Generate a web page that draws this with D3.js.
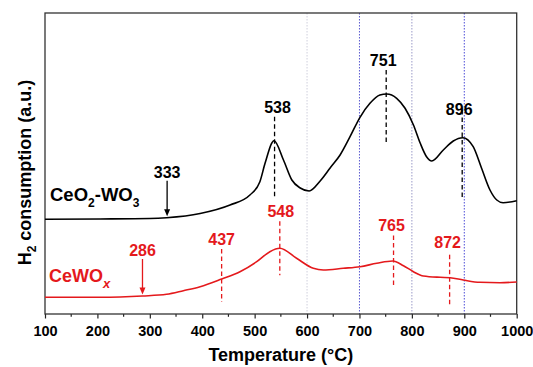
<!DOCTYPE html>
<html>
<head>
<meta charset="utf-8">
<script src="https://cdn.jsdelivr.net/npm/d3@7"></script>
<style>
  html, body { margin: 0; padding: 0; background: #fff; }
  svg { display: block; font-family: "Liberation Sans", Arial, sans-serif; }
</style>
</head>
<body>
<svg id="chart" width="533" height="367"></svg>
<script>
// H2-TPR profiles (temperature in °C, signal in arbitrary units)
const ceo2wo3Temp = [100, 205, 300, 332, 396, 453, 491, 510, 520, 537, 555, 571, 587, 604, 625, 644, 663, 682, 701, 720, 739, 752, 771, 787, 803, 816, 828, 838, 860, 879, 897, 917, 933, 949, 962, 974, 1000];
const ceo2wo3Signal = [94.7, 95, 95.5, 96.3, 100.5, 109, 119, 132.3, 151, 173.3, 154, 134, 126, 123, 133, 146, 159, 177.3, 196.7, 210.7, 219, 220, 215.7, 205.7, 189, 170.7, 157.3, 153, 164, 173, 176.3, 167.3, 145.7, 124, 114, 111.3, 113.3];

const cewoxTemp = [100, 205, 286, 332, 364, 396, 437, 472, 504, 529, 548, 580, 612, 631, 669, 701, 733, 763, 784, 803, 822, 854, 873, 898, 930, 968, 1000];
const cewoxSignal = [16.7, 16.7, 18, 19.7, 23.3, 27.3, 35, 42.3, 52.3, 62.3, 65.7, 55.7, 45.7, 44, 45.7, 47.3, 50.7, 53, 48.3, 42.3, 38, 36.7, 36.3, 34, 31.7, 31.3, 32];

// Peak temperatures marked with dashed lines, and onset temperatures marked with arrows
const ceo2wo3Peaks = [538, 751, 896];
const ceo2wo3Onset = [333];
const cewoxPeaks = [437, 548, 765, 872];
const cewoxOnset = [286];

const xTicks = [100, 200, 300, 400, 500, 600, 700, 800, 900, 1000];
const refLines = [600, 700, 800, 900];

const W = 533, H = 367;
const margin = { top: 13, right: 16.3, bottom: 53, left: 45 };
const RED = "#e4191c";

const svg = d3.select("#chart");
const x = d3.scaleLinear().domain([100, 1000]).range([margin.left, W - margin.right]);
const y = d3.scaleLinear().domain([0, 301]).range([H - margin.bottom, margin.top]);

// reference lines
const refStyle = { 600: "#cfcfdc", 700: "#5a5ad0", 800: "#9a9ac8", 900: "#4c4cd6" };
svg.append("g").selectAll("line").data(refLines).join("line")
  .attr("x1", d => x(d)).attr("x2", d => x(d))
  .attr("y1", margin.top).attr("y2", H - margin.bottom)
  .attr("stroke", d => refStyle[d]).attr("stroke-width", 1)
  .attr("stroke-dasharray", "1.5,1.5");

// x axis: major ticks every 100, minor every 50
const xAxis = d3.axisBottom(x).tickValues(xTicks).tickSize(4.5).tickPadding(7).tickFormat(d3.format("d"));
const gx = svg.append("g").attr("transform", `translate(0,${H - margin.bottom})`).call(xAxis);
gx.select(".domain").remove();
gx.selectAll("text").attr("font-size", 14.5).attr("font-weight", "bold").attr("fill", "#000");
gx.selectAll("line").attr("stroke", "#222").attr("stroke-width", 1.2);
const minor = d3.range(150, 1000, 100);
svg.append("g").selectAll("line").data(minor).join("line")
  .attr("x1", d => x(d)).attr("x2", d => x(d))
  .attr("y1", H - margin.bottom).attr("y2", H - margin.bottom + 2.8)
  .attr("stroke", "#222").attr("stroke-width", 1.2);

// frame
svg.append("rect")
  .attr("x", margin.left).attr("y", margin.top)
  .attr("width", W - margin.left - margin.right)
  .attr("height", H - margin.top - margin.bottom)
  .attr("fill", "none").attr("stroke", "#333").attr("stroke-width", 1.3);

// profiles
const line = d3.line().x(d => x(d[0])).y(d => y(d[1])).curve(d3.curveMonotoneX);
const blackPts = d3.zip(ceo2wo3Temp, ceo2wo3Signal);
const redPts = d3.zip(cewoxTemp, cewoxSignal);
svg.append("path").datum(blackPts).attr("d", line)
  .attr("fill", "none").attr("stroke", "#000").attr("stroke-width", 1.6);
svg.append("path").datum(redPts).attr("d", line)
  .attr("fill", "none").attr("stroke", RED).attr("stroke-width", 1.6);

// signal at a given temperature, read along the profile
function signalAt(temps, vals, t) {
  const i = d3.bisectLeft(temps, t);
  if (i <= 0) return vals[0];
  if (i >= temps.length) return vals[vals.length - 1];
  const f = (t - temps[i - 1]) / (temps[i] - temps[i - 1]);
  return vals[i - 1] + f * (vals[i] - vals[i - 1]);
}

// dashed peak markers: extent above / below the curve (px) and label offset
const peakLayout = {
  538: { up: 25, down: 55, dx: 3 },
  751: { up: 24, down: 48, dx: -3 },
  896: { up: 28, down: 62, dx: -3, gap: -5 },
  437: { up: 30, down: 23, dx: 0 },
  548: { up: 27, down: 27, dx: 1 },
  765: { up: 26, down: 26, dx: -2 },
  872: { up: 23, down: 29, dx: -2, gap: 7 }
};

function drawPeaks(peaks, temps, vals, color) {
  const g = svg.append("g");
  peaks.forEach(t => {
    const L = peakLayout[t];
    const cy = y(signalAt(temps, vals, t));
    const top = cy - L.up, bot = cy + L.down;
    g.append("line")
      .attr("x1", x(t)).attr("x2", x(t)).attr("y1", top).attr("y2", bot)
      .attr("stroke", color).attr("stroke-width", 1.3).attr("stroke-dasharray", "4.5,3");
    g.append("text")
      .attr("x", x(t) + L.dx).attr("y", top - (L.gap !== undefined ? L.gap : 4))
      .attr("text-anchor", "middle").attr("font-size", 16).attr("font-weight", "bold")
      .attr("fill", color).text(t);
  });
}

function drawOnset(onsets, temps, vals, color) {
  const g = svg.append("g");
  onsets.forEach(t => {
    const cy = y(signalAt(temps, vals, t));
    const tip = cy - 1.5, start = cy - 37;
    g.append("line")
      .attr("x1", x(t)).attr("x2", x(t)).attr("y1", start).attr("y2", tip - 5)
      .attr("stroke", color).attr("stroke-width", 1.3);
    g.append("path")
      .attr("d", `M${x(t) - 3},${tip - 7} L${x(t) + 3},${tip - 7} L${x(t)},${tip} Z`)
      .attr("fill", color);
    g.append("text")
      .attr("x", x(t)).attr("y", start - 3)
      .attr("text-anchor", "middle").attr("font-size", 16).attr("font-weight", "bold")
      .attr("fill", color).text(t);
  });
}

drawPeaks(ceo2wo3Peaks, ceo2wo3Temp, ceo2wo3Signal, "#000");
drawPeaks(cewoxPeaks, cewoxTemp, cewoxSignal, RED);
drawOnset(ceo2wo3Onset, ceo2wo3Temp, ceo2wo3Signal, "#000");
drawOnset(cewoxOnset, cewoxTemp, cewoxSignal, RED);

// series names
const n1 = svg.append("text").attr("x", 50).attr("y", 200.7)
  .attr("font-size", 18.5).attr("font-weight", "bold").attr("fill", "#000");
n1.append("tspan").text("CeO");
n1.append("tspan").attr("font-size", 12).attr("dy", 6).text("2");
n1.append("tspan").attr("dy", -6).text("-WO");
n1.append("tspan").attr("font-size", 12).attr("dy", 6).text("3");

const n2 = svg.append("text").attr("x", 49).attr("y", 281.7)
  .attr("font-size", 18).attr("font-weight", "bold").attr("fill", RED);
n2.append("tspan").text("CeWO");
n2.append("tspan").attr("font-size", 13).attr("font-style", "italic").attr("dy", 6).text("x");

// axis titles
svg.append("text")
  .attr("x", (margin.left + W - margin.right) / 2).attr("y", 361)
  .attr("text-anchor", "middle").attr("font-size", 18).attr("font-weight", "bold")
  .text("Temperature (°C)");

const yt = svg.append("text")
  .attr("transform", "translate(31,172.5) rotate(-90)")
  .attr("text-anchor", "middle").attr("font-size", 18).attr("font-weight", "bold");
yt.append("tspan").text("H");
yt.append("tspan").attr("font-size", 12).attr("dy", 5).text("2");
yt.append("tspan").attr("dy", -5).text(" consumption (a.u.)");
</script>
</body>
</html>
